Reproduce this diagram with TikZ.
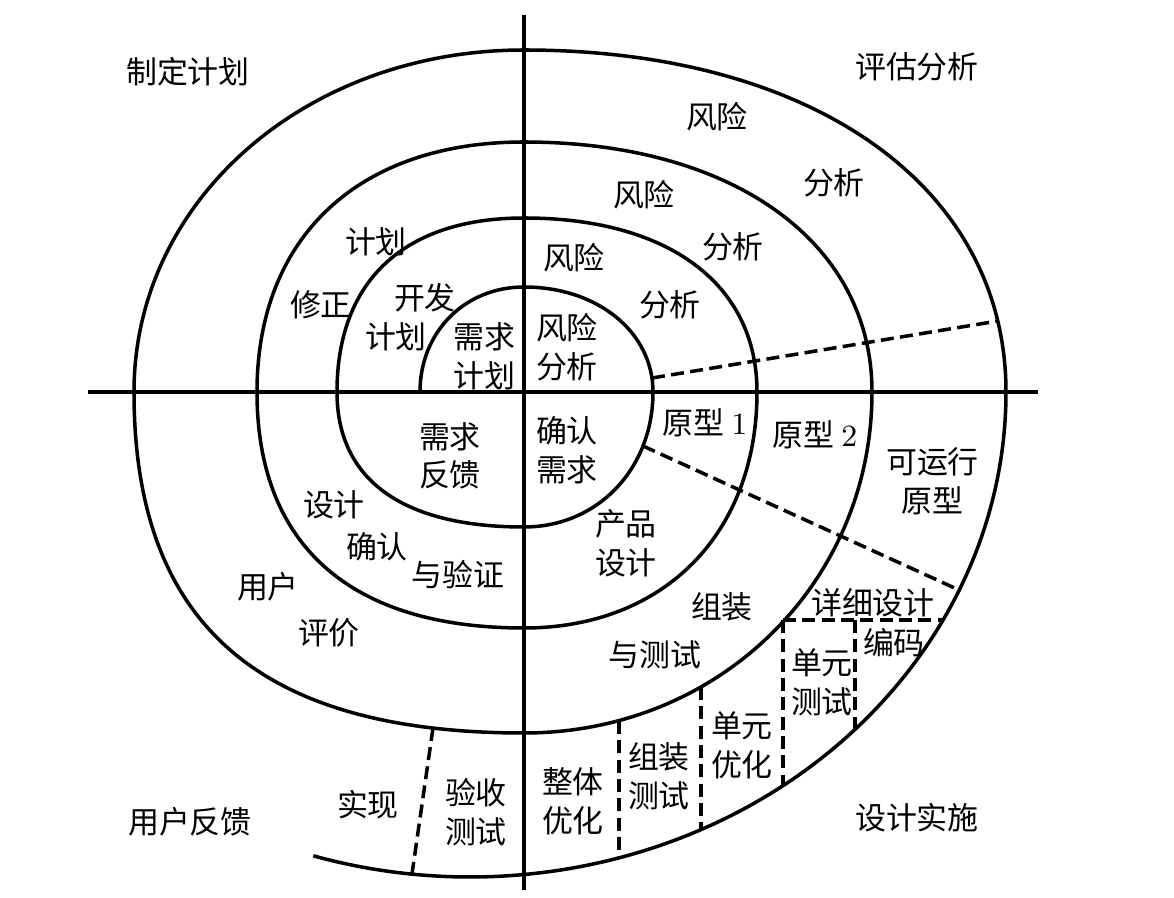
\documentclass[tikz,border=0pt]{standalone}
\usepackage{fontspec}
\newfontfamily\cjk{Noto Sans CJK SC}

\begin{document}
\begin{tikzpicture}[
    spiral/.style={line width=1pt},
    dashline/.style={line width=1pt, dash pattern=on 3.7pt off 1.8pt},
    lbl/.style={font=\cjk\fontsize{8.8}{11}\selectfont, align=center, inner sep=0pt}
  ]
      \useasboundingbox (-5.24,-5.06) rectangle (6.50,3.92);
      % axes
      \coordinate (ytop) at (0,3.77);
      \coordinate (ybot) at (0,-4.98);
      \coordinate (xleft) at (-4.36,0);
      \coordinate (xright) at (5.14,0);
      \draw [spiral] (ytop) -- (ybot);
      \draw [spiral] (xleft) -- (xright);
      % spiral, one quarter at a time
      \draw [spiral] (-1.04,0)
        .. controls (-1.04,0.599) and (-0.593,1.05) .. (0,1.05)
        .. controls (0.735,1.05) and (1.29,0.599) .. (1.29,0)
        .. controls (1.29,-0.770) and (0.735,-1.35) .. (0,-1.35)
        .. controls (-1.216,-1.35) and (-1.87,-0.878) .. (-1.87,0)
        .. controls (-1.87,1.114) and (-1.197,1.74) .. (0,1.74)
        .. controls (1.445,1.74) and (2.33,1.079) .. (2.33,0)
        .. controls (2.33,-1.416) and (1.398,-2.36) .. (0,-2.36)
        .. controls (-1.736,-2.36) and (-2.67,-1.534) .. (-2.67,0)
        .. controls (-2.67,1.55) and (-1.655,2.50) .. (0,2.50)
        .. controls (2.088,2.50) and (3.48,1.50) .. (3.48,0)
        .. controls (3.48,-1.910) and (1.949,-3.41) .. (0,-3.41)
        .. controls (-2.652,-3.41) and (-3.90,-2.319) .. (-3.90,0)
        .. controls (-3.90,1.915) and (-2.184,3.42) .. (0,3.42)
        .. controls (2.892,3.42) and (4.82,2.052) .. (4.82,0)
        arc [start angle=0, end angle=-107, x radius=5.36, y radius=4.85];
      % prototype borders
      \coordinate (p1a) at (1.28,0.14);
      \coordinate (p1b) at (4.74,0.71);
      \coordinate (p2a) at (1.19,-0.54);
      \coordinate (p2b) at (4.35,-1.98);
      \draw [dashline] (p1a) -- (p1b);
      \draw [dashline] (p2a) -- (p2b);
      % design / coding cells
      \coordinate (b1) at (2.59,-2.28);
      \coordinate (b2) at (4.19,-2.28);
      \coordinate (b3) at (3.31,-2.28);
      \coordinate (b1e) at (2.59,-3.94);
      \coordinate (b3e) at (3.31,-3.37);
      \coordinate (v3a) at (1.77,-2.95);
      \coordinate (v3b) at (1.77,-4.38);
      \coordinate (v4a) at (0.95,-3.29);
      \coordinate (v4b) at (0.95,-4.66);
      \coordinate (sa) at (-0.91,-3.36);
      \coordinate (sb) at (-1.12,-4.82);
      \draw [dashline] (b1) -- (b2);
      \draw [dashline] (b1) -- (b1e);
      \draw [dashline] (b3) -- (b3e);
      \draw [dashline] (v3a) -- (v3b);
      \draw [dashline] (v4a) -- (v4b);
      \draw [dashline] (sa) -- (sb);
      % quadrant titles
      \node [lbl] (plan) at (-3.36,3.20) {制定计划};
      \node [lbl] (evaluate) at (3.93,3.25) {评估分析};
      \node [lbl] (feedback) at (-3.34,-4.30) {用户反馈};
      \node [lbl] (implement) at (3.93,-4.26) {设计实施};
      % risk analysis
      \node [lbl] (risk4) at (1.93,2.75) {风险};
      \node [lbl] (ana4) at (3.10,2.09) {分析};
      \node [lbl] (risk3) at (1.20,1.97) {风险};
      \node [lbl] (ana3) at (2.09,1.45) {分析};
      \node [lbl] (risk2) at (0.50,1.34) {风险};
      \node [lbl] (ana2) at (1.46,0.87) {分析};
      \node [lbl] (risk1) at (0.43,0.445) {风险\\分析};
      % prototypes and implementation
      \node [lbl] (confirm) at (0.43,-0.58) {确认\\需求};
      \node [lbl] (proto1) at (1.81,-0.31) {原型 {\rmfamily 1}};
      \node [lbl] (proto2) at (2.91,-0.43) {原型 {\rmfamily 2}};
      \node [lbl] (runproto) at (4.085,-0.89) {可运行\\原型};
      \node [lbl] (product) at (1.02,-1.515) {产品\\设计};
      \node [lbl] (asm) at (1.98,-2.15) {组装};
      \node [lbl] (asmtest) at (1.31,-2.63) {与测试};
      \node [lbl] (detail) at (3.49,-2.11) {详细设计};
      \node [lbl] (coding) at (3.70,-2.51) {编码};
      \node [lbl] (unittest) at (2.98,-2.905) {单元\\测试};
      \node [lbl] (unitopt) at (2.18,-3.53) {单元\\优化};
      \node [lbl] (asmtest2) at (1.35,-3.84) {组装\\测试};
      \node [lbl] (wholeopt) at (0.49,-4.09) {整体\\优化};
      % user feedback
      \node [lbl] (accept) at (-0.48,-4.20) {验收\\测试};
      \node [lbl] (realize) at (-1.56,-4.13) {实现};
      \node [lbl] (user) at (-2.56,-1.95) {用户};
      \node [lbl] (judge) at (-1.95,-2.41) {评价};
      \node [lbl] (design) at (-1.90,-1.13) {设计};
      \node [lbl] (verify) at (-1.47,-1.55) {确认};
      \node [lbl] (valid) at (-0.66,-1.83) {与验证};
      \node [lbl] (reqfb) at (-0.74,-0.64) {需求\\反馈};
      % planning
      \node [lbl] (plan2) at (-1.48,1.50) {计划};
      \node [lbl] (revise) at (-2.03,0.87) {修正};
      \node [lbl] (dev) at (-0.99,0.94) {开发};
      \node [lbl] (devplan) at (-1.28,0.55) {计划};
      \node [lbl] (reqplan) at (-0.395,0.36) {需求\\计划};
\end{tikzpicture}
\end{document}
